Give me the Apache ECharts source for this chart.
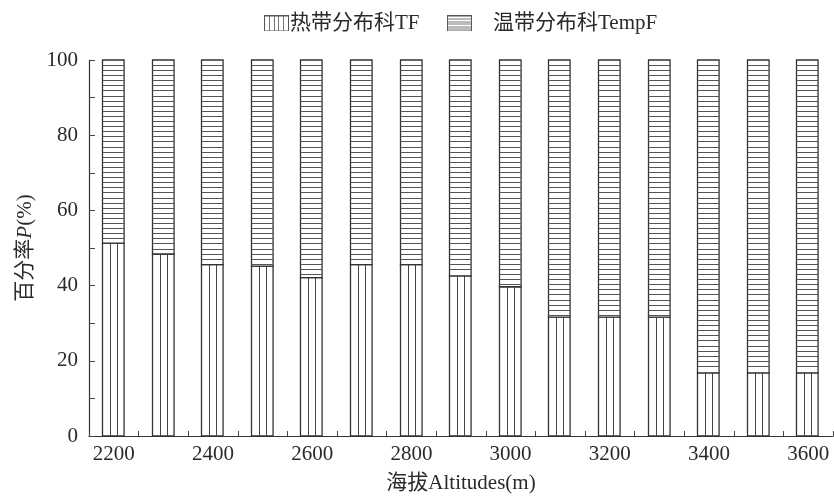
<!DOCTYPE html>
<html>
<head>
<meta charset="utf-8">
<script src="https://cdn.jsdelivr.net/npm/echarts@6/dist/echarts.min.js"></script>
<style>html,body{margin:0;padding:0;background:#fff}#c{width:834px;height:499px}</style>
</head>
<body>
<div id="c"></div>
<script>
const categories = ['2200','2300','2400','2500','2600','2700','2800','2900','3000','3100','3200','3300','3400','3500','3600'];
const tfValues = [51.3, 48.4, 45.6, 45.2, 42.1, 45.6, 45.6, 42.6, 39.7, 31.6, 31.6, 31.6, 16.8, 16.8, 16.8];
const tempfValues = tfValues.map(v => +(100 - v).toFixed(1));
const seriesNames = ['热带分布科TF', '温带分布科TempF'];
const yTickLabels = [0, 20, 40, 60, 80, 100];

const FONT = '"Liberation Serif", "Noto Sans CJK SC", serif';
const INK = '#2a2a2a';

function makeIcon(kind) {
  const c = document.createElement('canvas');
  c.width = 25; c.height = 16;
  const g = c.getContext('2d');
  g.fillStyle = '#fff'; g.fillRect(0, 0, 25, 16);
  g.strokeStyle = '#555'; g.lineWidth = 1;
  g.strokeRect(0.5, 0.5, 24, 15);
  g.beginPath();
  if (kind === 'v') {
    [5, 10, 14, 19].forEach(x => { g.moveTo(x + 0.5, 0.5); g.lineTo(x + 0.5, 15.5); });
  } else {
    [3, 6, 8, 11, 13].forEach(y => { g.moveTo(0.5, y + 0.5); g.lineTo(24.5, y + 0.5); });
  }
  g.strokeStyle = '#777';
  g.stroke();
  return 'image://' + c.toDataURL();
}

function renderTF(params, api) {
  const idx = api.value(0), v = api.value(1);
  const p0 = api.coord([idx, 0]), p1 = api.coord([idx, v]);
  const bw = api.size([1, 0])[0] * 0.435;
  const x = Math.round(p0[0] - bw / 2 - 1) + 0.5;
  const y = p1[1], h = p0[1] - p1[1];
  const children = [{
    type: 'rect', shape: { x: x, y: y, width: bw, height: h },
    style: { fill: '#fff', stroke: '#333', lineWidth: 1.3 }
  }];
  for (let k = 1; k < 3; k++) {
    const lx = Math.round(x + bw * k / 3) + 0.5;
    children.push({ type: 'line', shape: { x1: lx, y1: y, x2: lx, y2: p0[1] },
      style: { stroke: '#444', lineWidth: 1 } });
  }
  return { type: 'group', children: children };
}

function renderTempF(params, api) {
  const idx = api.value(0), base = api.value(1), v = api.value(2);
  const p0 = api.coord([idx, base]), p1 = api.coord([idx, base + v]);
  const bw = api.size([1, 0])[0] * 0.435;
  const x = Math.round(p0[0] - bw / 2 - 1) + 0.5;
  const y = p1[1], h = p0[1] - p1[1];
  const children = [{
    type: 'rect', shape: { x: x, y: y, width: bw, height: h },
    style: { fill: '#fff', stroke: '#333', lineWidth: 1.3 }
  }];
  for (let yy = y + 5; yy < p0[1] - 2; yy += 5.1) {
    const ly = Math.round(yy) + 0.5;
    children.push({ type: 'line', shape: { x1: x, y1: ly, x2: x + bw, y2: ly },
      style: { stroke: '#555', lineWidth: 1 } });
  }
  return { type: 'group', children: children };
}

const chart = echarts.init(document.getElementById('c'), null, { renderer: 'canvas' });
chart.setOption({
  animation: false,
  backgroundColor: '#fff',
  legend: [
    { data: [{ name: seriesNames[0], icon: makeIcon('v') }], left: 264, top: 13, padding: 0,
      itemWidth: 25, itemHeight: 16, itemGap: 0,
      textStyle: { fontFamily: FONT, fontSize: 21, color: INK, padding: [0, 0, 0, -4] } },
    { data: [{ name: seriesNames[1], icon: makeIcon('h') }], left: 447, top: 13, padding: 0,
      itemWidth: 25, itemHeight: 16, itemGap: 0,
      textStyle: { fontFamily: FONT, fontSize: 21, color: INK, padding: [0, 0, 0, 16] } }
  ],
  grid: { left: 89, right: 1, top: 60, bottom: 59, containLabel: false },
  xAxis: {
    type: 'category',
    data: categories,
    boundaryGap: true,
    name: '海拔Altitudes(m)',
    nameLocation: 'middle',
    nameGap: 37,
    nameTextStyle: { fontFamily: FONT, fontSize: 21, color: INK },
    axisLine: { show: true, lineStyle: { color: '#333', width: 1.2 } },
    axisTick: { show: true, inside: true, length: 5, interval: 0, lineStyle: { color: '#444' } },
    axisLabel: { interval: 1, margin: 8, fontFamily: FONT, fontSize: 21, color: INK },
    splitLine: { show: false }
  },
  yAxis: {
    type: 'value',
    min: 0, max: 100, interval: 10,
    name: '百分率{i|P}(%)',
    nameLocation: 'middle',
    nameGap: 53,
    nameRotate: 90,
    nameTextStyle: { fontFamily: FONT, fontSize: 21, color: INK,
      rich: { i: { fontFamily: FONT, fontSize: 21, fontStyle: 'italic', color: INK } } },
    axisLine: { show: true, lineStyle: { color: '#333', width: 1.2 } },
    axisTick: { show: true, inside: true, length: 6, lineStyle: { color: '#444' } },
    axisLabel: {
      margin: 11, fontFamily: FONT, fontSize: 21, color: INK,
      formatter: v => (yTickLabels.indexOf(v) >= 0 ? String(v) : '')
    },
    splitLine: { show: false }
  },
  series: [
    {
      name: seriesNames[0], type: 'custom', renderItem: renderTF,
      data: tfValues.map((v, i) => [i, v]),
      encode: { x: 0, y: 1 }
    },
    {
      name: seriesNames[1], type: 'custom', renderItem: renderTempF,
      data: tempfValues.map((v, i) => [i, tfValues[i], v]),
      encode: { x: 0, y: [1, 2] }
    }
  ]
});
</script>
</body>
</html>
